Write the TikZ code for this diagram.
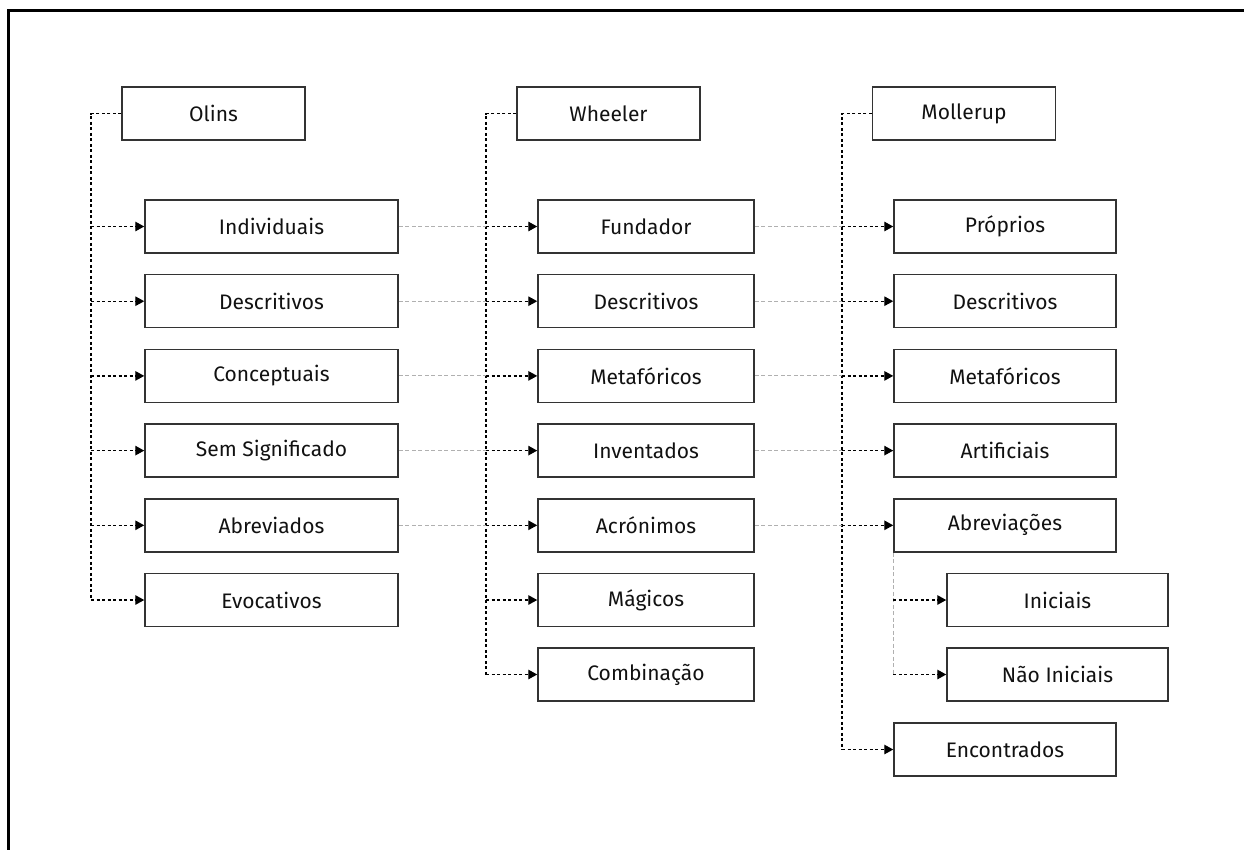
\documentclass[tikz,border=0pt]{standalone}
\usepackage{fontspec}
\setmainfont{Fira Sans}
\usetikzlibrary{arrows.meta}
\definecolor{boxline}{HTML}{333333}
\definecolor{txt}{HTML}{111111}
\definecolor{faint}{HTML}{B0B0B0}
\tikzset{
  every node/.style={font=\fontsize{21}{24}\selectfont, text=txt},
  boxbase/.style={draw=boxline, line width=1.5pt, rectangle, minimum height=53pt, inner sep=0pt},
  parent/.style={boxbase, minimum width=183pt},
  childA/.style={boxbase, minimum width=253pt},
  childB/.style={boxbase, minimum width=216pt},
  childC/.style={boxbase, minimum width=222pt},
  childD/.style={boxbase, minimum width=221pt},
  link/.style={draw=black, line width=1.4pt, dash pattern=on 3pt off 2.5pt},
  arrowlink/.style={link, -{Triangle[length=9pt,width=9.5pt]}},
  crosslink/.style={draw=faint, line width=1pt, dash pattern=on 4pt off 2.5pt},
}
\begin{document}
\begin{tikzpicture}[x=1pt,y=-1pt]
  \useasboundingbox (0,0) rectangle (1244,849);
  % frame
  \draw[line width=3pt, line cap=rect] (8,849) -- (8,10) -- (1244,10);

  % parents
  \node[parent] (olins) at (213.5,113.5) {Olins};
  \node[parent] (wheeler) at (608.5,113.5) {Wheeler};
  \node[parent] (mollerup) at (964,113.5) {Mollerup};

  % first column
  \node[childA] (a1) at (271.5,226.5) {Individuais};
  \node[childA] (a2) at (271.5,301.2) {Descritivos};
  \node[childA] (a3) at (271.5,375.9) {Conceptuais};
  \node[childA] (a4) at (271.5,450.6) {Sem Significado};
  \node[childA] (a5) at (271.5,525.3) {Abreviados};
  \node[childA] (a6) at (271.5,600) {Evocativos};

  % second column
  \node[childB] (b1) at (646,226.5) {Fundador};
  \node[childB] (b2) at (646,301.2) {Descritivos};
  \node[childB] (b3) at (646,375.9) {Metafóricos};
  \node[childB] (b4) at (646,450.6) {Inventados};
  \node[childB] (b5) at (646,525.3) {Acrónimos};
  \node[childB] (b6) at (646,600) {Mágicos};
  \node[childB] (b7) at (646,674.5) {Combinação};

  % third column
  \node[childC] (c1) at (1005,226.5) {Próprios};
  \node[childC] (c2) at (1005,301.2) {Descritivos};
  \node[childC] (c3) at (1005,375.9) {Metafóricos};
  \node[childC] (c4) at (1005,450.6) {Artificiais};
  \node[childC] (c5) at (1005,525.3) {Abreviações};
  \node[childD] (d1) at (1057.5,600) {Iniciais};
  \node[childD] (d2) at (1057.5,674.5) {Não Iniciais};
  \node[childC] (c6) at (1005,749.5) {Encontrados};

  % spines
  \coordinate (sa) at (91,600);
  \coordinate (sb) at (486,674.5);
  \coordinate (sc) at (842,749.5);
  \draw[link] (olins.west) -| (sa);
  \draw[link] (wheeler.west) -| (sb);
  \draw[link] (mollerup.west) -| (sc);

  % branches, first column
  \foreach \n in {a1,a2,a3,a4,a5,a6}
    \draw[arrowlink] (sa |- \n.west) -- (\n.west);
  % branches, second column
  \foreach \n in {b1,b2,b3,b4,b5,b6,b7}
    \draw[arrowlink] (sb |- \n.west) -- (\n.west);
  % branches, third column
  \foreach \n in {c1,c2,c3,c4,c5,c6}
    \draw[arrowlink] (sc |- \n.west) -- (\n.west);

  % cross references between columns
  \foreach \p/\q in {a1/b1,a2/b2,a3/b3,a4/b4,a5/b5}
    \draw[crosslink] (\p.east) -- (sb |- \q.west);
  \foreach \p/\q in {b1/c1,b2/c2,b3/c3,b4/c4,b5/c5}
    \draw[crosslink] (\p.east) -- (sc |- \q.west);

  % sub-branch of Abreviações
  \coordinate (sd) at (c5.south west |- d2.west);
  \draw[crosslink] (c5.south west) -- (sd);
  \draw[arrowlink] (c5.south west |- d1.west) -- (d1.west);
  \draw[arrowlink] (sd) -- (d2.west);
\end{tikzpicture}
\end{document}
